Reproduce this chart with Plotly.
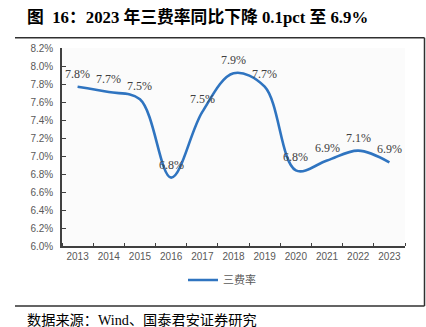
import plotly.graph_objects as go

years = [2013, 2014, 2015, 2016, 2017, 2018, 2019, 2020, 2021, 2022, 2023]
rate = [7.77, 7.71, 7.63, 6.76, 7.49, 7.92, 7.77, 6.84, 6.95, 7.06, 6.93]
labels = ["7.8%", "7.7%", "7.5%", "6.8%", "7.5%", "7.9%", "7.7%", "6.8%", "6.9%", "7.1%", "6.9%"]
y_ticks = [6.0, 6.2, 6.4, 6.6, 6.8, 7.0, 7.2, 7.4, 7.6, 7.8, 8.0, 8.2]
y_tick_text = ["6.0%", "6.2%", "6.4%", "6.6%", "6.8%", "7.0%", "7.2%", "7.4%", "7.6%", "7.8%", "8.0%", "8.2%"]
series_name = "三费率"
title_text = "图&#160;&#160;16：2023 年三费率同比下降 0.1pct 至 6.9%"
source_text = "数据来源：Wind、国泰君安证券研究"

W, H = 426, 327
ml, mr, mt, mb = 62, 21, 48, 81
pw, ph = W - ml - mr, H - mt - mb


def px_x(p):
    return (p - ml) / pw


def px_y(p):
    return (H - mb - p) / ph


LINE = "#2f74c0"
AX = "#404040"

fig = go.Figure()
fig.add_trace(go.Scatter(
    x=years, y=rate, mode="lines", name=series_name,
    line=dict(color=LINE, width=2.6, shape="spline", smoothing=1.0),
))

for yr, v, t in zip(years, rate, labels):
    fig.add_annotation(x=yr, y=v, xref="x", yref="y", text=t, showarrow=False,
                       yshift=13, font=dict(family="Liberation Serif", size=12, color="#404040"))

fig.add_annotation(x=px_x(25), y=px_y(17), xref="paper", yref="paper", xanchor="left", yanchor="middle",
                   text="<b>" + title_text + "</b>", showarrow=False,
                   font=dict(family="Liberation Serif, Noto Sans CJK SC", size=16.8, color="#000000"))
fig.add_annotation(x=px_x(25), y=px_y(320), xref="paper", yref="paper", xanchor="left", yanchor="middle",
                   text=source_text, showarrow=False,
                   font=dict(family="Liberation Serif, Noto Sans CJK SC", size=14.2, color="#000000"))

box = dict(color="#303030", width=1.5)
x0, x1 = px_x(15), px_x(424.5)
yt, yb = px_y(37.7), px_y(306)
fig.add_shape(type="line", xref="paper", yref="paper", x0=x0, x1=x1, y0=yt, y1=yt, line=box)
fig.add_shape(type="line", xref="paper", yref="paper", x0=x1, x1=x1, y0=yt, y1=yb, line=box)
fig.add_shape(type="line", xref="paper", yref="paper", x0=x0, x1=x1, y0=yb, y1=yb, line=box)

fig.update_layout(
    width=W, height=H,
    margin=dict(l=ml, r=mr, t=mt, b=mb),
    paper_bgcolor="#ffffff", plot_bgcolor="#fbfbfb",
    showlegend=True,
    legend=dict(orientation="h", x=px_x(222), xanchor="center", y=px_y(280), yanchor="middle",
                font=dict(family="Liberation Sans, Noto Sans CJK SC", size=11, color="#595959"),
                bgcolor="rgba(0,0,0,0)"),
    xaxis=dict(range=[years[0] - 0.5, years[-1] + 0.5], tickvals=years, ticks="",
               minor=dict(tick0=years[0] - 0.5, dtick=1, ticks="inside", ticklen=3, tickcolor=AX,
                          showgrid=False),
               showline=True, linecolor=AX, linewidth=1.5, showgrid=False, zeroline=False,
               tickfont=dict(family="Liberation Sans", size=10, color="#595959")),
    yaxis=dict(range=[6.0, 8.2], tickvals=y_ticks, ticktext=y_tick_text, ticklabelstandoff=5,
               ticks="inside", ticklen=4, tickcolor=AX, showline=True, linecolor=AX, linewidth=1.5,
               showgrid=False, zeroline=False,
               tickfont=dict(family="Liberation Sans", size=10, color="#595959")),
)

fig.write_html("out.html")
